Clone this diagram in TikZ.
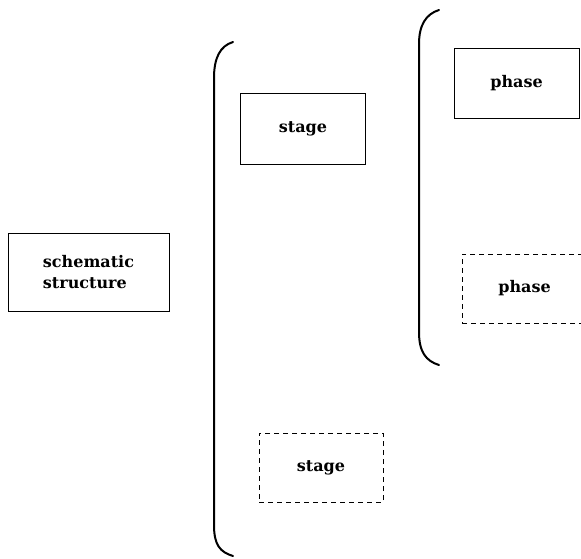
\documentclass[tikz,border=0pt]{standalone}
\usepackage{fontspec}
\setmainfont{DejaVu Serif}
\begin{document}
\begin{tikzpicture}[x=1pt,y=-1pt,
  box/.style={draw,line width=1pt,inner sep=0pt,align=center,
    font=\bfseries\fontsize{16}{21}\selectfont},
  dashbox/.style={box,dashed,dash pattern=on 5pt off 4pt},
  brace/.style={line width=2pt,line cap=round}]
\useasboundingbox (0,0) rectangle (581,558);
\clip (0,0) rectangle (581,558);
% left-hand box
\node[box,align=left,minimum width=161pt,minimum height=78pt] (schema) at (88.5,272) {schematic\\structure};
% outer bracket grouping the stages
\draw[brace] (233,42) .. controls (220,46) and (214,58) .. (214,78)
  -- (214,525) .. controls (214,545) and (220,552) .. (233,556);
\node[box,minimum width=125pt,minimum height=71pt] (stage1) at (303,129) {stage};
\node[dashbox,minimum width=124pt,minimum height=69pt] (stage2) at (321,467.5) {stage};
% inner bracket grouping the phases
\draw[brace] (439,10) .. controls (426,14) and (419,25) .. (419,44)
  -- (419,332) .. controls (419,352) and (426,361) .. (439,365);
\node[box,minimum width=125pt,minimum height=70pt] (phase1) at (516.5,83) {phase};
\node[dashbox,minimum width=125pt,minimum height=69pt] (phase2) at (524.5,288.5) {phase};
\end{tikzpicture}
\end{document}
